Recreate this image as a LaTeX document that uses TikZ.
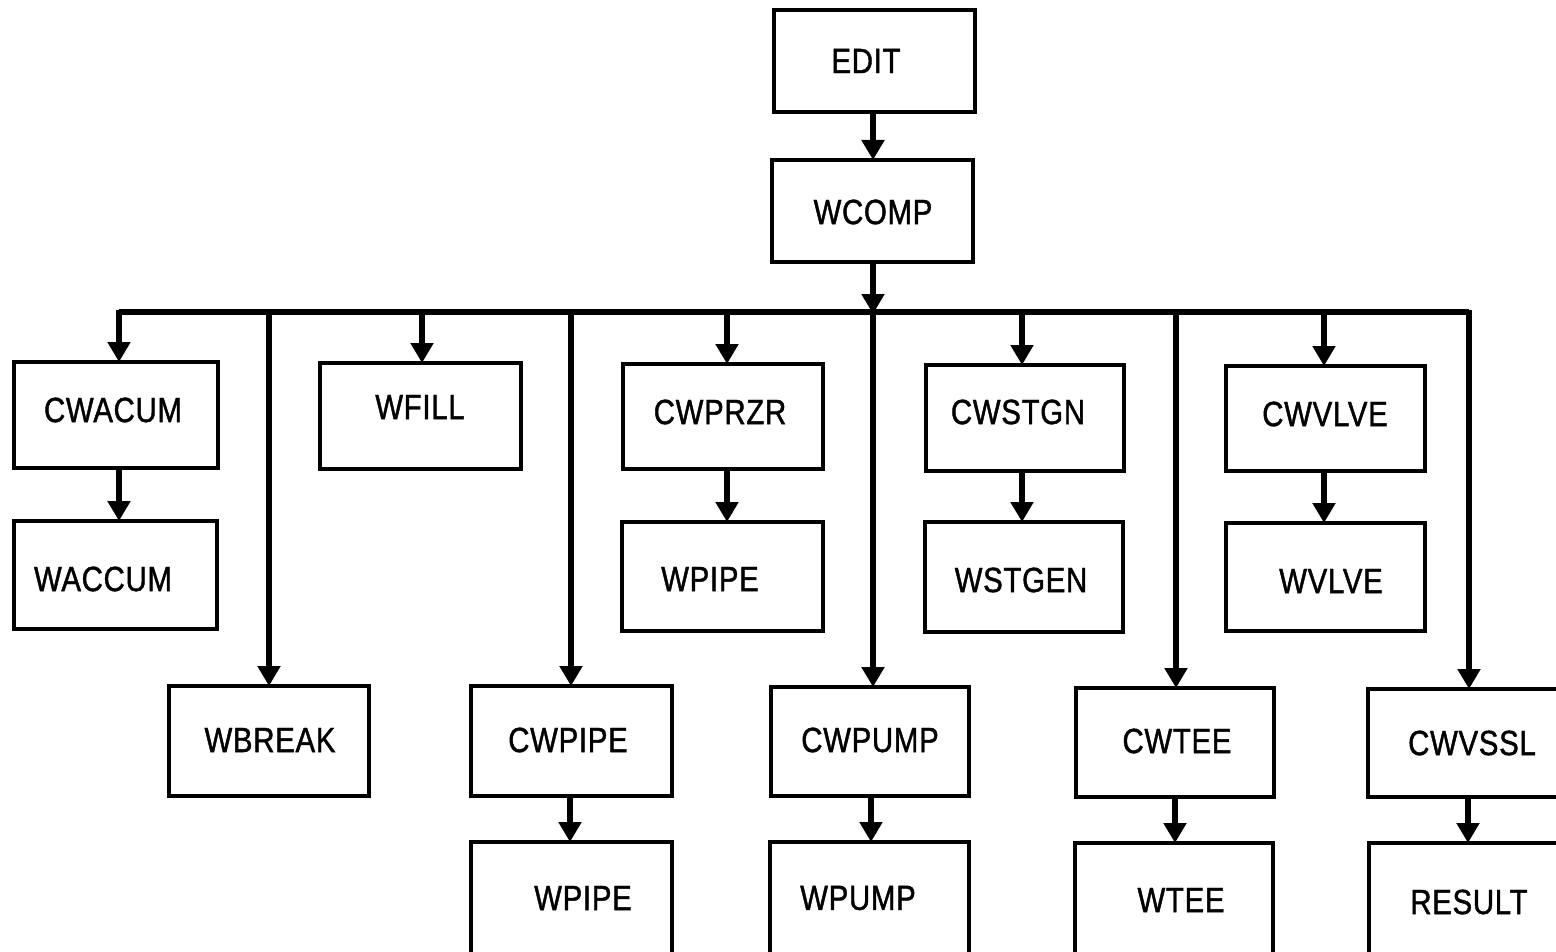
\documentclass[tikz,border=0pt]{standalone}
\usepackage{fontspec}
\setmainfont{Liberation Sans}[FakeStretch=0.84,FakeBold=1.2,LetterSpace=2]
\usetikzlibrary{arrows.meta}
\begin{document}
\begin{tikzpicture}[x=1pt,y=-1pt,
  box/.style={draw,line width=3.5pt,rectangle,inner sep=0pt,outer sep=0pt},
  lbl/.style={font=\fontsize{35}{40}\selectfont,inner sep=0pt},
  wire/.style={line width=6.5pt},
  arr/.style={line width=6.5pt,-{Triangle[length=20pt,width=22pt]}}]
\useasboundingbox (0,0) rectangle (1556,952);
\clip (0,0) rectangle (1556,952);
% box: name, left, top, right, bottom
\newcommand{\mybox}[5]{%
  \node[box,minimum width={#4-#2},minimum height={#5-#3}] (#1) at ({(#2+#4)/2},{(#3+#5)/2}) {};}
% top chain
\mybox{edit}{774}{10}{975}{112}
\mybox{wcomp}{772}{160}{973}{262}
% first row
\mybox{cwacum}{14}{362}{218}{468}
\mybox{wfill}{320}{363}{521}{469}
\mybox{cwprzr}{623}{364}{823}{469}
\mybox{cwstgn}{926}{365}{1124}{471}
\mybox{cwvlve}{1226}{366}{1425}{471}
% second row
\mybox{waccum}{14}{521}{217}{629}
\mybox{wpipea}{622}{522}{823}{631}
\mybox{wstgen}{925}{522}{1123}{632}
\mybox{wvlve}{1226}{523}{1425}{631}
% third row
\mybox{wbreak}{169}{686}{369}{796}
\mybox{cwpipe}{471}{686}{672}{796}
\mybox{cwpump}{771}{687}{969}{796}
\mybox{cwtee}{1076}{688}{1274}{797}
\mybox{cwvssl}{1368}{689}{1570}{797}
% fourth row
\mybox{wpipeb}{471}{842}{672}{970}
\mybox{wpump}{770}{842}{969}{970}
\mybox{wtee}{1075}{843}{1273}{970}
\mybox{result}{1369}{843}{1570}{970}
% labels
\node[lbl] at (866,61) {EDIT};
\node[lbl] at (873,212) {WCOMP};
\node[lbl] at (113,410) {CWACUM};
\node[lbl] at (420,407) {WFILL};
\node[lbl] at (720,412) {CWPRZR};
\node[lbl] at (1018,412) {CWSTGN};
\node[lbl] at (1325,414) {CWVLVE};
\node[lbl] at (103,579) {WACCUM};
\node[lbl] at (710,579) {WPIPE};
\node[lbl] at (1021,580) {WSTGEN};
\node[lbl] at (1331,581) {WVLVE};
\node[lbl] at (270,740) {WBREAK};
\node[lbl] at (568,740) {CWPIPE};
\node[lbl] at (870,740) {CWPUMP};
\node[lbl] at (1177,741) {CWTEE};
\node[lbl] at (1472,743) {CWVSSL};
\node[lbl] at (583,898) {WPIPE};
\node[lbl] at (858,898) {WPUMP};
\node[lbl] at (1181,900) {WTEE};
\node[lbl] at (1469,902) {RESULT};
% distribution bus
\coordinate (b1) at (119,312);
\coordinate (b2) at (269,312);
\coordinate (b3) at (422,312);
\coordinate (b4) at (571,312);
\coordinate (b5) at (727,312);
\coordinate (b6) at (873,312);
\coordinate (b7) at (1022,312);
\coordinate (b8) at (1176,312);
\coordinate (b9) at (1324,312);
\coordinate (b10) at (1469,312);
\draw[wire,line join=round] ([yshift=2pt]b1) -- (b1) -- (b10) -- ([yshift=2pt]b10);
% connectors
\draw[arr] (edit.south -| 873,0) -- (wcomp.north -| 873,0);
\draw[arr] (wcomp.south -| 873,0) -- ([yshift=-2pt]b6);
\draw[arr] (b1) -- (b1 |- cwacum.north);
\draw[arr] (b2) -- (b2 |- wbreak.north);
\draw[arr] (b3) -- (b3 |- wfill.north);
\draw[arr] (b4) -- (b4 |- cwpipe.north);
\draw[arr] (b5) -- (b5 |- cwprzr.north);
\draw[arr] (b6) -- (b6 |- cwpump.north);
\draw[arr] (b7) -- (b7 |- cwstgn.north);
\draw[arr] (b8) -- (b8 |- cwtee.north);
\draw[arr] (b9) -- (b9 |- cwvlve.north);
\draw[arr] (b10) -- (b10 |- cwvssl.north);
\draw[arr] (cwacum.south -| 119,0) -- (waccum.north -| 119,0);
\draw[arr] (cwprzr.south -| 727,0) -- (wpipea.north -| 727,0);
\draw[arr] (cwstgn.south -| 1022,0) -- (wstgen.north -| 1022,0);
\draw[arr] (cwvlve.south -| 1324,0) -- (wvlve.north -| 1324,0);
\draw[arr] (cwpipe.south -| 570,0) -- (wpipeb.north -| 570,0);
\draw[arr] (cwpump.south -| 871,0) -- (wpump.north -| 871,0);
\draw[arr] (cwtee.south -| 1175,0) -- (wtee.north -| 1175,0);
\draw[arr] (cwvssl.south -| 1468,0) -- (result.north -| 1468,0);
\end{tikzpicture}
\end{document}
